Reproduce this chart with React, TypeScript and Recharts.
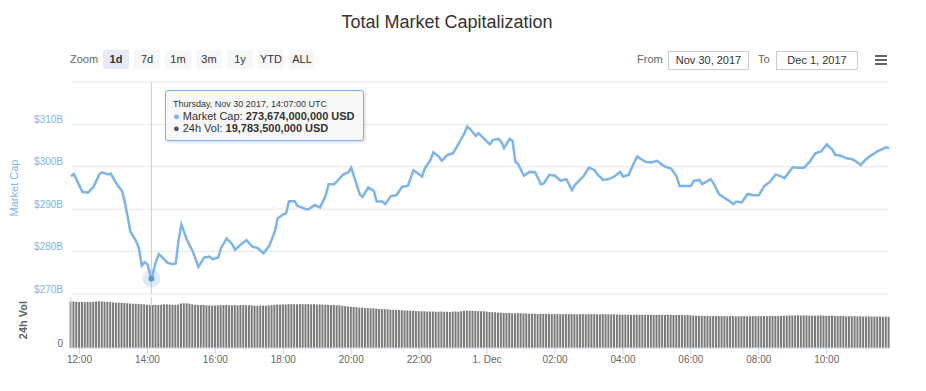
import {
  LineChart,
  Line,
  BarChart,
  Bar,
  XAxis,
  YAxis,
  CartesianGrid,
  Tooltip,
  ReferenceLine,
} from "recharts";

// minutes since Nov 30 2017 00:00 UTC
const capTimes = [
  705, 710, 725, 735, 745, 755, 760, 770, 775, 785, 795, 800, 810, 820, 825,
  830, 835, 840, 847, 855, 860, 865, 875, 885, 890, 895, 900, 910, 920, 930,
  940, 950, 955, 965, 970, 980, 990, 995, 1005, 1015, 1025, 1035, 1045, 1055,
  1065, 1070, 1080, 1085, 1090, 1100, 1105, 1120, 1125, 1135, 1145, 1155, 1160,
  1170, 1180, 1185, 1195, 1200, 1210, 1215, 1220, 1230, 1240, 1245, 1255, 1260,
  1270, 1280, 1290, 1300, 1310, 1325, 1330, 1340, 1345, 1355, 1360, 1370, 1380,
  1390, 1400, 1405, 1410, 1420, 1425, 1435, 1445, 1450, 1460, 1465, 1470, 1480,
  1485, 1490, 1495, 1505, 1515, 1525, 1535, 1540, 1550, 1560, 1570, 1580, 1590,
  1595, 1605, 1610, 1620, 1630, 1635, 1645, 1655, 1665, 1675, 1680, 1690, 1695,
  1705, 1720, 1730, 1740, 1750, 1755, 1765, 1775, 1780, 1790, 1800, 1805, 1815,
  1820, 1835, 1840, 1850, 1860, 1865, 1875, 1880, 1890, 1900, 1910, 1920, 1930,
  1940, 1950, 1960, 1965, 1980, 1990, 2000, 2010, 2020, 2030, 2040, 2050, 2055,
  2065, 2075, 2085, 2090, 2100, 2105, 2115, 2120, 2130, 2135, 2145, 2150,
];

// market cap, billions USD
const capValues = [
  297.8, 298.3, 294.1, 293.9, 295.3, 298.2, 298.7, 298.2, 298.4, 296.1, 294.3,
  291.8, 284.7, 282.5, 280.8, 276.7, 277.5, 277.0, 273.674, 277.6, 279.4, 278.8,
  277.4, 277.0, 277.2, 282.7, 286.4, 282.7, 280.1, 276.4, 278.6, 278.8, 278.2,
  278.6, 280.8, 283.1, 281.7, 280.4, 281.7, 282.7, 281.2, 280.8, 279.6, 281.3,
  284.7, 287.8, 288.8, 289.0, 291.9, 291.9, 290.8, 290.0, 290.0, 291.0, 290.4,
  293.3, 295.9, 295.9, 297.3, 298.1, 298.7, 299.8, 295.7, 293.5, 292.9, 295.1,
  294.3, 291.8, 291.8, 291.2, 293.1, 293.3, 295.3, 295.5, 299.2, 297.7, 299.6,
  301.6, 303.4, 302.4, 301.4, 302.8, 303.2, 305.5, 307.9, 309.5, 308.9, 307.3,
  307.9, 306.6, 305.3, 306.3, 306.6, 305.9, 304.4, 306.6, 306.1, 301.2, 300.6,
  297.9, 298.8, 298.7, 295.9, 296.1, 298.1, 297.9, 296.7, 297.1, 294.5, 295.7,
  297.1, 297.7, 299.8, 299.2, 298.2, 296.9, 297.1, 297.7, 298.8, 297.7, 298.1,
  299.6, 302.4, 301.2, 301.0, 301.4, 300.4, 300.0, 299.6, 297.7, 295.5, 295.5,
  295.5, 296.7, 296.9, 295.9, 297.1, 296.1, 293.5, 292.6, 292.2, 291.2, 291.8,
  291.6, 293.6, 293.3, 293.3, 295.5, 296.5, 298.2, 297.7, 297.3, 299.9, 299.8,
  299.8, 301.2, 303.2, 303.6, 305.3, 304.0, 302.8, 302.6, 302.0, 301.8, 301.4,
  300.4, 301.2, 302.4, 302.8, 303.7, 304.0, 304.6, 304.4,
];

// 24h volume, billions USD, one bar every 5 minutes from 11:45
const volStart = 705;
const volStep = 5;
const volValues = [
  21.3, 21.4, 21.3, 21.2, 21.2, 21.1, 21.2, 21.2, 21.3, 21.4, 21.5, 21.4, // 11:45
  21.3, 21.3, 21.2, 21.0, 20.9, 20.9, 20.8, 20.7, 20.6, 20.5, 20.4, 20.4, // 12:45
  20.3, 20.2, 20.1, 19.9, 19.7835, 19.8, 19.8, 19.9, 19.9, 20.1, 20.1, 20.0, // 13:45
  19.9, 19.9, 20.0, 20.5, 20.6, 20.6, 20.4, 20.1, 19.9, 19.8, 19.8, 19.8, // 14:45
  19.7, 19.6, 19.5, 19.6, 19.7, 19.7, 19.8, 19.8, 19.7, 19.7, 19.8, 19.6, // 15:45
  19.8, 19.8, 19.7, 19.7, 19.6, 19.5, 19.5, 19.5, 19.6, 19.5, 19.6, 19.8, // 16:45
  19.9, 20.0, 19.9, 20.1, 20.0, 20.2, 20.2, 20.2, 20.1, 20.2, 20.2, 20.2, // 17:45
  20.2, 20.1, 20.2, 20.0, 20.1, 20.0, 19.9, 19.9, 19.8, 19.8, 19.7, 19.6, // 18:45
  19.5, 19.3, 19.1, 19.0, 18.9, 18.8, 18.6, 18.6, 18.4, 18.4, 18.3, 18.3, // 19:45
  18.1, 18.0, 17.9, 17.9, 17.8, 17.6, 17.6, 17.5, 17.5, 17.4, 17.3, 17.3, // 20:45
  17.2, 17.1, 17.0, 17.0, 16.9, 16.9, 16.8, 16.8, 16.8, 16.7, 16.7, 16.8, // 21:45
  16.7, 16.7, 16.6, 16.8, 16.8, 16.7, 16.9, 17.1, 17.2, 17.2, 17.1, 17.0, // 22:45
  17.0, 16.9, 16.9, 16.8, 16.6, 16.5, 16.5, 16.3, 16.3, 16.2, 16.1, 16.1, // 23:45
  16.0, 16.0, 16.1, 16.0, 15.9, 15.9, 15.8, 15.8, 15.8, 15.7, 15.8, 15.7, // 00:45
  15.7, 15.7, 15.6, 15.7, 15.6, 15.6, 15.6, 15.6, 15.6, 15.6, 15.6, 15.5, // 01:45
  15.6, 15.6, 15.5, 15.6, 15.6, 15.6, 15.5, 15.5, 15.6, 15.5, 15.5, 15.5, // 02:45
  15.5, 15.4, 15.4, 15.3, 15.4, 15.3, 15.3, 15.3, 15.4, 15.3, 15.3, 15.3, // 03:45
  15.3, 15.3, 15.2, 15.3, 15.3, 15.2, 15.2, 15.3, 15.3, 15.2, 15.2, 15.2, // 04:45
  15.2, 15.1, 15.2, 15.1, 14.9, 14.9, 14.8, 14.8, 14.8, 14.8, 14.7, 14.7, // 05:45
  14.7, 14.7, 14.7, 14.7, 14.6, 14.7, 14.7, 14.6, 14.6, 14.7, 14.7, 14.6, // 06:45
  14.6, 14.7, 14.7, 14.6, 14.7, 14.7, 14.7, 14.7, 14.8, 14.8, 14.7, 14.8, // 07:45
  14.9, 14.9, 15.0, 14.9, 15.0, 15.0, 14.9, 15.0, 15.0, 14.9, 14.9, 14.9, // 08:45
  14.9, 15.0, 14.9, 14.8, 14.8, 14.9, 14.8, 14.7, 14.8, 14.7, 14.6, 14.6, // 09:45
  14.6, 14.7, 14.6, 14.6, 14.5, 14.5, 14.6, 14.5, 14.5, 14.5, 14.5, 14.4, // 10:45
  14.5, 14.4, // 11:45
];

const capTicks = [270, 280, 290, 300, 310];
const timeTicks = [720, 840, 960, 1080, 1200, 1320, 1440, 1560, 1680, 1800, 1920, 2040];
const zoomButtons = ["1d", "7d", "1m", "3m", "1y", "YTD", "ALL"];

const capData = capTimes.map((t, i) => ({ t, cap: capValues[i] }));
const volData = volValues.map((vol, i) => ({ t: volStart + i * volStep, vol }));
const hoverIndex = capTimes.indexOf(847);

const FONT = '"Liberation Sans", Arial, sans-serif';
const BLUE = "#7cb5ec";
const DOMAIN: [number, number] = [705, 2150];

const pad = (n: number) => String(n).padStart(2, "0");

const fmtTick = (t: number) => {
  if (t === 1440) return "1. Dec";
  const m = t % 1440;
  return `${pad(Math.floor(m / 60))}:${pad(m % 60)}`;
};

const fmtHeader = (t: number) => {
  const nextDay = t >= 1440;
  const m = t % 1440;
  return `${nextDay ? "Friday, Dec 1" : "Thursday, Nov 30"} 2017, ${pad(
    Math.floor(m / 60)
  )}:${pad(m % 60)}:00 UTC`;
};

const usd = (b: number) => Math.round(b * 1e9).toLocaleString("en-US") + " USD";

function TipBox({ payload }: any) {
  if (!payload || !payload.length) return null;
  const p = payload[0].payload;
  const vi = Math.round((p.t - volStart) / volStep);
  const vol = volValues[vi];
  return (
    <div
      style={{
        background: "rgba(247,247,247,0.9)",
        border: `1px solid ${BLUE}`,
        borderRadius: 3,
        padding: "7px 8px 6px 7px",
        fontFamily: FONT,
        color: "#333",
        whiteSpace: "nowrap",
        boxShadow: "1px 1px 3px rgba(0,0,0,0.18)",
      }}
    >
      <div style={{ fontSize: 9, lineHeight: "12px" }}>{fmtHeader(p.t)}</div>
      <div style={{ fontSize: 11, lineHeight: "12px" }}>
        <span style={{ color: BLUE }}>{"\u25CF"}</span> Market Cap:{" "}
        <b>{usd(p.cap)}</b>
      </div>
      <div style={{ fontSize: 11, lineHeight: "12px" }}>
        <span style={{ color: "#555" }}>{"\u25CF"}</span> 24h Vol: <b>{usd(vol)}</b>
      </div>
    </div>
  );
}

const HoverDot = (props: any) => (
  <g>
    <circle cx={props.cx} cy={props.cy} r={9} fill={BLUE} fillOpacity={0.25} />
    <circle cx={props.cx} cy={props.cy} r={3} fill="#5a96d8" />
  </g>
);

const CapTick = (props: any) => (
  <text
    x={props.x}
    y={props.y - 5}
    textAnchor="end"
    dominantBaseline="central"
    fill={BLUE}
    fontSize={10}
    fontFamily={FONT}
  >
    {`$${props.payload.value}B`}
  </text>
);

const VolTick = (props: any) => (
  <text
    x={props.x}
    y={props.y - 5}
    textAnchor="end"
    dominantBaseline="central"
    fill="#666"
    fontSize={10}
    fontFamily={FONT}
  >
    {props.payload.value}
  </text>
);

const btnStyle = (left: number, on: boolean): React.CSSProperties => ({
  position: "absolute",
  left,
  top: 50,
  width: 26,
  height: 19,
  lineHeight: "19px",
  textAlign: "center",
  fontSize: 11,
  color: "#333",
  fontWeight: on ? "bold" : "normal",
  background: on ? "#e6ebf5" : "#f7f7f7",
  borderRadius: 2,
});

const boxStyle = (left: number, width: number): React.CSSProperties => ({
  position: "absolute",
  left,
  top: 51,
  width,
  height: 17,
  lineHeight: "17px",
  border: "1px solid #cccccc",
  textAlign: "center",
  fontSize: 11,
  color: "#333",
  boxSizing: "content-box",
});

export default function App() {
  return (
    <div
      style={{
        position: "absolute",
        left: 0,
        top: 0,
        width: 926,
        height: 391,
        background: "#fff",
        fontFamily: FONT,
        overflow: "hidden",
      }}
    >
      {/* Title */}
      <div
        style={{
          position: "absolute",
          left: 0,
          top: 12,
          width: 894,
          textAlign: "center",
          fontSize: 18,
          lineHeight: "20px",
          color: "#333",
        }}
      >
        Total Market Capitalization
      </div>

      {/* Range selector */}
      <div style={{ position: "absolute", left: 70, top: 51, fontSize: 11, lineHeight: "17px", color: "#666" }}>
        Zoom
      </div>
      {zoomButtons.map((b, i) => (
        <div key={b} style={btnStyle(103 + i * 31, i === 0)}>
          {b}
        </div>
      ))}

      {/* Date inputs */}
      <div style={{ position: "absolute", left: 637, top: 51, fontSize: 11, lineHeight: "17px", color: "#666" }}>
        From
      </div>
      <div style={boxStyle(668, 79)}>Nov 30, 2017</div>
      <div style={{ position: "absolute", left: 758, top: 51, fontSize: 11, lineHeight: "17px", color: "#666" }}>
        To
      </div>
      <div style={boxStyle(776, 80)}>Dec 1, 2017</div>

      {/* Menu icon */}
      {[55, 59, 63].map((y) => (
        <div
          key={y}
          style={{ position: "absolute", left: 875, top: y, width: 12, height: 2, background: "#666" }}
        />
      ))}

      {/* Market cap pane */}
      <div style={{ position: "absolute", left: 0, top: 0 }}>
        <LineChart
          width={926}
          height={300}
          data={capData}
          margin={{ top: 82, right: 37, bottom: 6, left: 0 }}
        >
          <CartesianGrid vertical={false} stroke="#e6e6e6" />
          <XAxis dataKey="t" type="number" domain={DOMAIN} hide />
          <YAxis
            width={71}
            domain={[270, 320]}
            ticks={capTicks}
            interval={0}
            axisLine={false}
            tickLine={false}
            tick={<CapTick />}
            label={{
              content: () => (
                <text
                  x={14}
                  y={188}
                  transform="rotate(-90 14 188)"
                  textAnchor="middle"
                  dominantBaseline="central"
                  fill={BLUE}
                  fontSize={11}
                  fontFamily={FONT}
                >
                  Market Cap
                </text>
              ),
            }}
          />
          <Tooltip
            active
            defaultIndex={hoverIndex}
            position={{ x: 165, y: 90 }}
            cursor={{ stroke: "#cccccc", strokeWidth: 1 }}
            content={<TipBox />}
            isAnimationActive={false}
            wrapperStyle={{ outline: "none" }}
          />
          <Line
            type="linear"
            dataKey="cap"
            stroke={BLUE}
            strokeWidth={2.5}
            dot={false}
            activeDot={<HoverDot />}
            isAnimationActive={false}
          />
        </LineChart>
      </div>

      {/* Volume pane */}
      <div style={{ position: "absolute", left: 0, top: 294 }}>
        <BarChart
          width={926}
          height={97}
          data={volData}
          margin={{ top: 3, right: 37, bottom: 13, left: 0 }}
        >
          <XAxis
            dataKey="t"
            type="number"
            domain={DOMAIN}
            ticks={timeTicks}
            interval={0}
            tickFormatter={fmtTick}
            tick={{ fill: "#666", fontSize: 10, fontFamily: FONT }}
            tickLine={{ stroke: "#ccd6eb" }}
            axisLine={{ stroke: "#ccd6eb" }}
            tickSize={6}
            tickMargin={2}
            height={30}
          />
          <YAxis
            width={71}
            domain={[0, 23.5]}
            ticks={[0]}
            interval={0}
            axisLine={{ stroke: "#ccd6eb" }}
            tickLine={false}
            tick={<VolTick />}
            label={{
              content: () => (
                <text
                  x={23}
                  y={26}
                  transform="rotate(-90 23 26)"
                  textAnchor="middle"
                  dominantBaseline="central"
                  fill="#666"
                  fontSize={11}
                  fontWeight="bold"
                  fontFamily={FONT}
                >
                  24h Vol
                </text>
              ),
            }}
          />
          <ReferenceLine x={847} stroke="#cccccc" />
          <Bar dataKey="vol" fill="#7a7a7a" barSize={2} isAnimationActive={false} />
        </BarChart>
      </div>
    </div>
  );
}
